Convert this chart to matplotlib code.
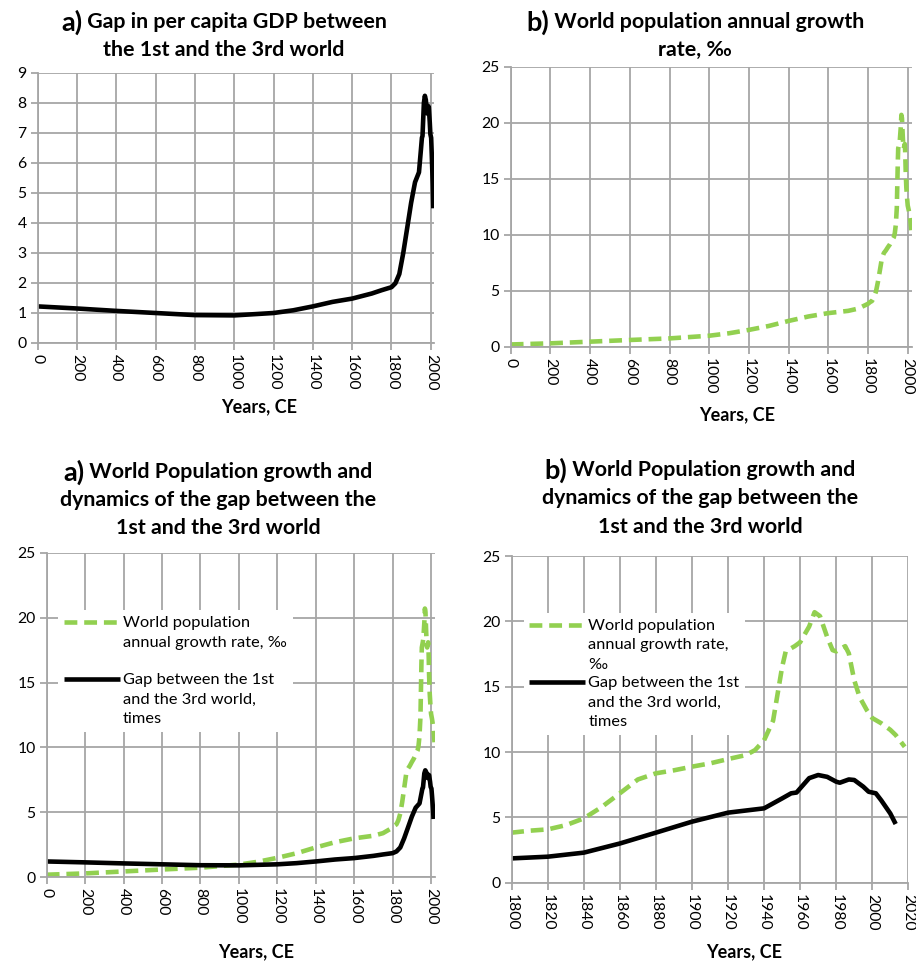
import matplotlib
matplotlib.use('Agg')
import matplotlib.pyplot as plt
import numpy as np

W, H = 916, 963
FONT = 'Lato'
GREEN = '#92D050'
GRID = '#a6a6a6'

# gap in per capita GDP between the 1st and the 3rd world, times
gap_years = [0, 200, 400, 600, 800, 1000, 1200, 1300, 1400, 1500, 1600, 1700, 1750,
             1800, 1820, 1840, 1860, 1880, 1900, 1920, 1940, 1950, 1955, 1958,
             1965, 1970, 1975, 1980, 1982, 1987, 1990, 1995, 1998, 2002, 2005,
             2010, 2013]
gap_values = [1.22, 1.15, 1.07, 1.0, 0.93, 0.92, 1.0, 1.09, 1.22, 1.37, 1.48, 1.65, 1.76,
              1.86, 1.99, 2.3, 3.0, 3.83, 4.67, 5.36, 5.69, 6.45, 6.84, 6.9,
              8.0, 8.24, 8.1, 7.73, 7.65, 7.9, 7.86, 7.35, 6.96, 6.84, 6.3,
              5.3, 4.49]

# world population annual growth rate, per mille
growth_years = [0, 200, 400, 600, 800, 1000, 1100, 1200, 1300, 1400, 1500, 1600, 1700,
                1750, 1800, 1810, 1820, 1830, 1840, 1850, 1860, 1870, 1880, 1890,
                1900, 1910, 1920, 1930, 1935, 1940, 1945, 1950, 1952, 1957, 1960,
                1965, 1968, 1971, 1975, 1978, 1980, 1985, 1987, 1990, 1993, 1997,
                2000, 2005, 2010, 2013, 2018]
growth_values = [0.2, 0.3, 0.45, 0.6, 0.74, 0.98, 1.2, 1.5, 1.85, 2.3, 2.7, 3.0, 3.2,
                 3.4, 3.83, 3.98, 4.08, 4.4, 4.92, 5.8, 6.84, 7.9, 8.37, 8.6,
                 8.88, 9.13, 9.46, 9.77, 10.15, 10.9, 12.4, 16.5, 17.7, 18.1, 18.4,
                 19.6, 20.7, 20.4, 18.8, 17.8, 17.7, 18.1, 17.55, 15.5, 14.2, 13.2,
                 12.6, 12.2, 11.7, 11.3, 10.4]

long_ticks = list(range(0, 2001, 200))
modern_ticks = list(range(1800, 2021, 20))

# the trailing blank line gives both legend rows the same height
growth_label = 'World population\nannual growth rate, \u2030\n'
growth_label_b = 'World population\nannual growth rate,\n\u2030'
gap_label = 'Gap between the 1st\nand the 3rd world,\ntimes'

plt.rcParams['font.family'] = [FONT, 'DejaVu Sans']

fig = plt.figure(figsize=(W / 100, H / 100), dpi=100)


def px_axes(left, top, right, bottom):
    return fig.add_axes([left / W, 1 - bottom / H, (right - left) / W, (bottom - top) / H])


def style(ax, xlim, xticks, ylim, yticks):
    ax.set_xlim(*xlim)
    ax.set_ylim(*ylim)
    ax.set_xticks(xticks)
    ax.set_yticks(yticks)
    ax.grid(True, color=GRID, linewidth=1.3)
    ax.set_axisbelow(True)
    for s in ['top', 'right']:
        ax.spines[s].set_visible(False)
    for s in ['left', 'bottom']:
        ax.spines[s].set_color(GRID)
        ax.spines[s].set_linewidth(1.3)
    ax.tick_params(color=GRID, length=5, width=1.3, labelsize=11.3, pad=3)
    ax.tick_params(axis='x', labelrotation=-90)


def draw_gap(ax):
    ax.plot(gap_years, gap_values, color='black', lw=3.3,
            solid_joinstyle='round', solid_capstyle='butt',
            label='Gap between the 1st and the 3rd world, times')


def draw_growth(ax):
    ax.plot(growth_years, growth_values, color=GREEN, lw=3.3, dashes=(2.8, 1.5),
            dash_joinstyle='round', label='World population annual growth rate')


def add_legend(ax, anchor, labels):
    handles = ax.get_lines()
    leg = ax.legend(handles, labels, loc='upper left', bbox_to_anchor=anchor,
                    borderaxespad=0, frameon=True, fancybox=False, framealpha=1,
                    edgecolor='none', fontsize=11.8, handlelength=3.4,
                    handletextpad=0.2, labelspacing=0.25, borderpad=0.35)
    leg.get_frame().set_linewidth(0)
    for t in leg.get_texts():
        t.set_linespacing(1.5)
    # keep each key level with the first line of its label
    for column in leg._legend_handle_box.get_children():
        for row in column.get_children():
            row.align = 'top'
    return leg


# a) gap only
ax1 = px_axes(37.7, 73, 434.3, 343)
draw_gap(ax1)
style(ax1, (0, 2018), long_ticks, (0, 9), range(0, 10))

# b) growth rate only
ax2 = px_axes(510.7, 66.7, 911.7, 346.7)
draw_growth(ax2)
style(ax2, (0, 2020), long_ticks, (0, 25), range(0, 26, 5))

# a) both series, long run
ax3 = px_axes(46.7, 552.7, 434.5, 877.3)
draw_growth(ax3)
draw_gap(ax3)
style(ax3, (0, 2018), long_ticks, (0, 25), range(0, 26, 5))
add_legend(ax3, (0.03, 0.822), [growth_label, gap_label])

# b) both series since 1800
ax4 = px_axes(511.7, 556, 908.3, 882.7)
draw_growth(ax4)
draw_gap(ax4)
style(ax4, (1800, 2020), modern_ticks, (0, 25), range(0, 26, 5))
add_legend(ax4, (0.03, 0.825), [growth_label_b, gap_label])

# x axis captions
for x, y in [(259, 407), (737, 415), (256, 952), (744, 952)]:
    fig.text(x / W, 1 - y / H, 'Years, CE', ha='center', va='center',
             fontsize=13, fontweight='bold')

# panel titles: a larger letter followed by the bold heading
titles = [
    (224, [22, 50], 'a)', ['Gap in per capita GDP between', 'the 1st and the 3rd world']),
    (695, [22, 50], 'b)', ['World population annual growth', 'rate, \u2030']),
    (218, [472, 500, 528], 'a)', ['World Population growth and',
                                  'dynamics of the gap between the',
                                  '1st and the 3rd world']),
    (700, [470, 498, 527], 'b)', ['World Population growth and',
                                  'dynamics of the gap between the',
                                  '1st and the 3rd world']),
]

renderer = fig.canvas.get_renderer()
for cx, ys, prefix, lines in titles:
    head = fig.text(0, 1 - ys[0] / H, prefix, ha='left', va='center',
                    fontsize=19.5, fontweight='bold')
    rest = fig.text(0, 1 - ys[0] / H, ' ' + lines[0], ha='left', va='center',
                    fontsize=15.4, fontweight='bold')
    w_head = head.get_window_extent(renderer).width
    w_rest = rest.get_window_extent(renderer).width
    x0 = cx - (w_head + w_rest) / 2
    head.set_x(x0 / W)
    rest.set_x((x0 + w_head) / W)
    for y, line in zip(ys[1:], lines[1:]):
        fig.text(cx / W, 1 - y / H, line, ha='center', va='center',
                 fontsize=15.4, fontweight='bold')

fig.savefig('out.png', dpi=100, facecolor='white')
